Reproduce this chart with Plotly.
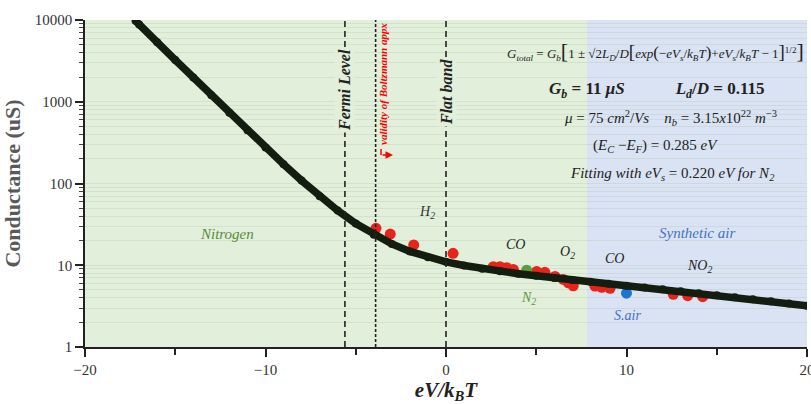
import plotly.graph_objects as go

# ---- data ----
curve_x = [-17.2, -17, -16, -15, -14, -13, -12, -11, -10, -9, -8, -7, -6, -5, -4, -3, -2, -1,
           0, 1, 2, 3, 4, 5, 6, 7, 8, 9, 10, 11, 12, 13, 14, 15, 16, 17, 18, 19, 20]
curve_y = [9800, 8800, 5340, 3245, 1973, 1201, 733, 449, 276, 172, 108.5, 70.0, 46.6, 32.3, 23.6,
           18.2, 14.75, 12.5, 11.0, 9.92, 9.09, 8.44, 7.89, 7.42, 7.00, 6.62, 6.27, 5.94, 5.63,
           5.34, 5.07, 4.80, 4.55, 4.31, 4.07, 3.84, 3.62, 3.41, 3.20]

red_x = [-3.88, -3.09, -1.79, 0.39, 2.62, 2.99, 3.36, 3.73, 5.02, 5.48, 6.04, 6.50, 6.78, 7.05,
         8.25, 8.63, 9.09, 12.59, 13.39, 14.22]
red_y = [28.3, 24.1, 17.7, 14.0, 9.6, 9.6, 9.33, 8.9, 8.4, 8.2, 7.3, 6.7, 6.1, 5.6,
         5.57, 5.37, 5.22, 4.41, 4.24, 4.12]

n2_x = [4.47]
n2_y = [8.7]
sair_x = [10.0]
sair_y = [4.55]

fermi_x = -5.6
boltz_x = -3.9
flat_x = 0.0
split_x = 7.8
x_min, x_max = -20, 20

y_major = [1, 10, 100, 1000, 10000]
y_minor = [m * d for d in [1, 10, 100, 1000] for m in range(2, 10)]

GREEN_BG = "#e2efda"
BLUE_BG = "#dae3f3"
SERIF = "Liberation Serif"
GRID = "rgba(160,180,150,0.22)"

fig = go.Figure()

fig.add_trace(go.Scatter(x=red_x, y=red_y, mode="markers",
                         marker=dict(size=11, color="#e8231a"), showlegend=False))
fig.add_trace(go.Scatter(x=n2_x, y=n2_y, mode="markers",
                         marker=dict(size=11, color="#5f9a3c"), showlegend=False))
fig.add_trace(go.Scatter(x=sair_x, y=sair_y, mode="markers",
                         marker=dict(size=11, color="#1f74cf"), showlegend=False))
fig.add_trace(go.Scatter(x=curve_x, y=curve_y, mode="lines+markers",
                         line=dict(color="#131d10", width=7.5),
                         marker=dict(size=8, color="#131d10"), showlegend=False))

# shaded regions
fig.add_shape(type="rect", xref="x", yref="paper", x0=x_min, x1=split_x, y0=0, y1=1,
              fillcolor=GREEN_BG, line_width=0, layer="below")
fig.add_shape(type="rect", xref="x", yref="paper", x0=split_x, x1=x_max, y0=0, y1=1,
              fillcolor=BLUE_BG, line_width=0, layer="below")

# vertical dashed lines
for xv, dash in [(fermi_x, "6px,4px"), (boltz_x, "3px,2px"), (flat_x, "6px,4px")]:
    fig.add_shape(type="line", xref="x", yref="paper", x0=xv, x1=xv, y0=0, y1=1,
                  line=dict(color="#222222", width=1.6, dash=dash), layer="above")

def P(px, py):
    return (px - 85) / 722.0, (347 - py) / 327.0

def ann(px, py, text, size=13, color="#222222", angle=0, bg=None, xanchor="center"):
    x, y = P(px, py)
    fig.add_annotation(xref="paper", yref="paper", x=x, y=y, text=text, showarrow=False,
                       textangle=angle, xanchor=xanchor, yanchor="middle",
                       font=dict(family=SERIF, size=size, color=color),
                       bgcolor=bg, borderpad=1)

ann(345, 90, "<b><i>Fermi Level</i></b>", size=16, angle=-90, bg=GREEN_BG)
ann(383, 84, "<b><i>validity of Boltzmann appx</i></b>", size=11, color="#ff0000", angle=-90)
ann(446, 92, "<b><i>Flat band</i></b>", size=16, angle=-90, bg=GREEN_BG)

# red arrow
ax1, ay1 = P(393, 155)
fig.add_annotation(xref="paper", yref="paper", x=ax1, y=ay1, ax=-12, ay=0,
                   axref="pixel", ayref="pixel", text="", showarrow=True,
                   arrowhead=2, arrowsize=1, arrowwidth=1.5, arrowcolor="#ff0000")
fig.add_shape(type="line", xref="paper", yref="paper", x0=P(381, 149)[0], x1=P(381, 155)[0],
              y0=P(381, 149)[1], y1=P(381, 155)[1], line=dict(color="#ff0000", width=1.5))

ann(806, 50, "<i>G<sub>total</sub></i> = <i>G<sub>b</sub></i><span style='font-size:22px'>[</span>1 ± √2"
             "<i>L<sub>D</sub></i>/<i>D</i><span style='font-size:19px'>[</span><i>exp</i>"
             "<span style='font-size:17px'>(</span>−<i>eV<sub>s</sub></i>/<i>k<sub>B</sub>T</i>"
             "<span style='font-size:17px'>)</span>+<i>eV<sub>s</sub></i>/<i>k<sub>B</sub>T</i> − 1"
             "<span style='font-size:19px'>]</span><sup>1/2</sup><span style='font-size:22px'>]</span>",
    size=13, xanchor="right")
ann(657, 90, "<b><i>G<sub>b</sub></i> = 11 <i>μS</i>            <i>L<sub>d</sub></i>/<i>D</i> = 0.115</b>",
    size=17)
ann(670, 118, "<i>μ</i> = 75 <i>cm</i><sup>2</sup>/<i>Vs</i>    <i>n<sub>b</sub></i> = 3.15<i>x</i>10<sup>22</sup> <i>m</i><sup>−3</sup>",
    size=15)
ann(655, 146, "(<i>E<sub>C</sub></i> −<i>E<sub>F</sub></i>) = 0.285 <i>eV</i>", size=15)
ann(672, 174, "<i>Fitting with eV<sub>s</sub></i> = 0.220 <i>eV for N<sub>2</sub></i>", size=15)

ann(227, 234, "<i>Nitrogen</i>", size=15, color="#5a8b3a")
ann(697, 233, "<i>Synthetic air</i>", size=15, color="#4472c4")
ann(427, 212, "<i>H<sub>2</sub></i>", size=14, color="#333333")
ann(515, 244, "<i>CO</i>", size=14, color="#222222")
ann(567, 252, "<i>O<sub>2</sub></i>", size=14, color="#222222")
ann(528, 298, "<i>N<sub>2</sub></i>", size=14, color="#5f9a3c")
ann(614, 258, "<i>CO</i>", size=14, color="#222222")
ann(699, 266, "<i>NO<sub>2</sub></i>", size=14, color="#222222")
ann(627, 315, "<i>S.air</i>", size=14, color="#4472c4")

fig.update_layout(
    width=811, height=404,
    margin=dict(l=85, r=4, t=20, b=57, autoexpand=False),
    paper_bgcolor="white", plot_bgcolor="white",
    font=dict(family=SERIF, size=15, color="#333333"),
    showlegend=False,
)
fig.update_xaxes(
    range=[x_min, x_max], tickvals=[-20, -10, 0, 10, 20], ticktext=["−20", "−10", "0", "10", "20"],
    ticks="outside", ticklen=8, tickwidth=1.5, tickcolor="#222222",
    showline=True, linecolor="#222222", linewidth=1.5, showgrid=False, zeroline=False,
    minor=dict(tickvals=[-15, -5, 5, 15], ticks="outside", ticklen=6, tickwidth=1.5, tickcolor="#222222"),
    title=dict(text="<b><i>eV/k<sub>B</sub>T</i></b>", font=dict(family=SERIF, size=21, color="#222222"),
               standoff=14),
    tickfont=dict(family=SERIF, size=15, color="#333333"),
    ticklabeloverflow="allow", automargin=False,
)
fig.update_yaxes(
    type="log", range=[0, 4], tickvals=y_major,
    ticktext=[str(v) for v in y_major],
    ticks="outside", ticklen=8, tickwidth=1.5, tickcolor="#222222",
    showline=True, linecolor="#222222", linewidth=1.5,
    showgrid=True, gridcolor=GRID, gridwidth=1, zeroline=False,
    minor=dict(tickvals=y_minor, ticks="outside", ticklen=4, tickwidth=1, tickcolor="#444444",
               showgrid=True, gridcolor=GRID, gridwidth=1),
    title=dict(text="<b>Conductance (uS)</b>", font=dict(family=SERIF, size=22, color="#595959"),
               standoff=8),
    tickfont=dict(family=SERIF, size=15, color="#333333"),
    automargin=False,
)

fig.write_html("out.html")
